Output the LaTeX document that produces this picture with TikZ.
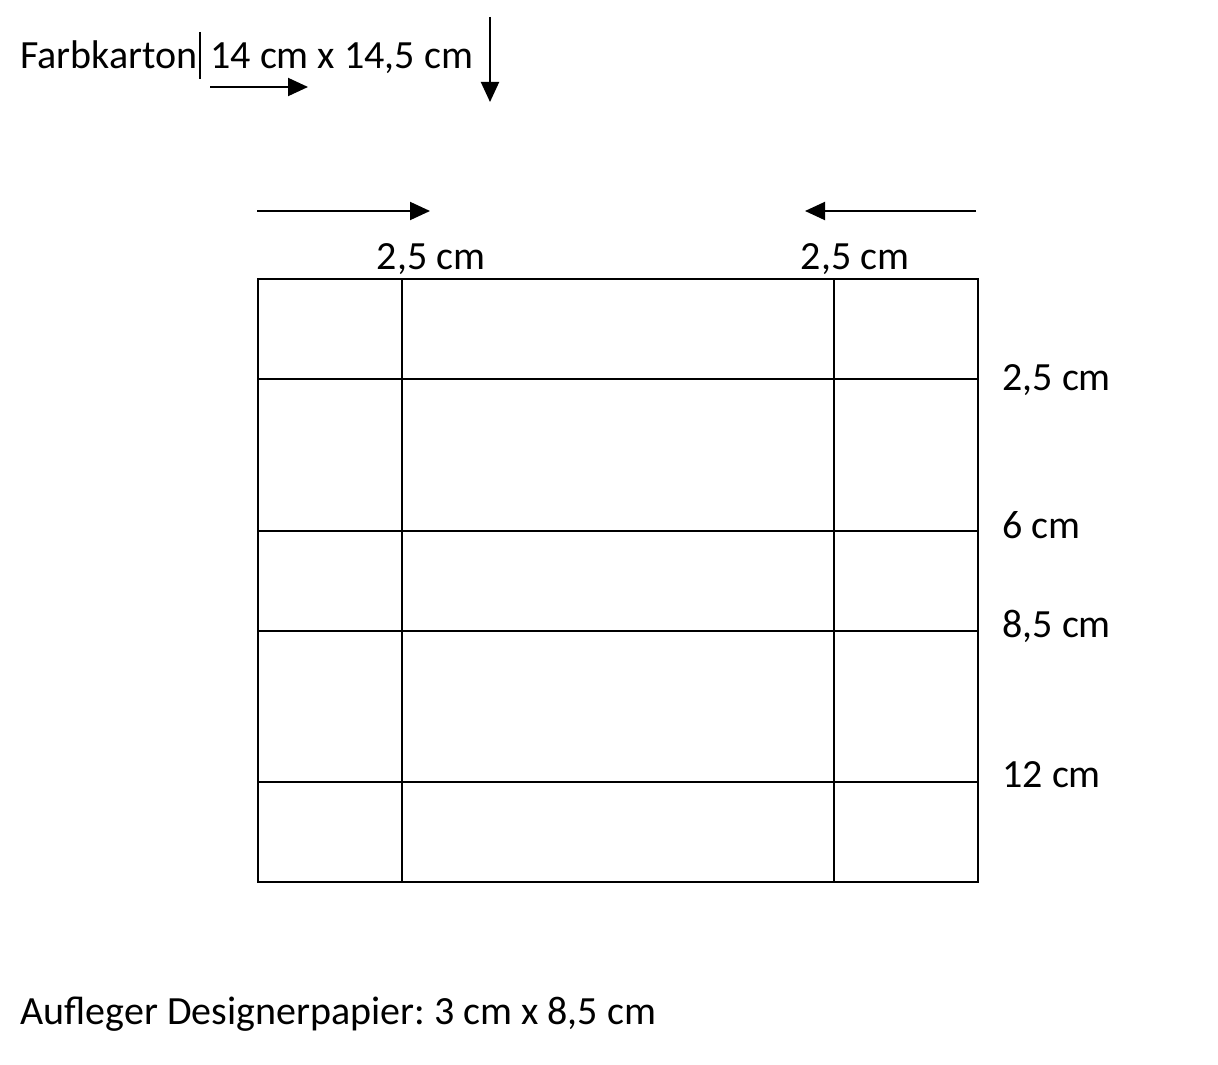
\documentclass[tikz,border=0pt]{standalone}
\usepackage{fontspec}
\setmainfont{Carlito}
\usetikzlibrary{arrows.meta}
\tikzset{
  lbl/.style={inner sep=0pt, font=\fontsize{20pt}{24pt}\selectfont},
  gridline/.style={line width=1pt, black},
  arr/.style={line width=1pt, -{Triangle[length=10pt,width=9pt]}},
}
\begin{document}
\frenchspacing
\begin{tikzpicture}[x=0.5pt,y=-0.5pt]
\useasboundingbox (0,0) rectangle (1218,1064);
% header
\node[lbl, anchor=base west] (title) at (20,69) {Farbkarton};
\node[lbl, anchor=base west] (size) at (210,69) {14 cm x 14,5 cm};
\coordinate (c1) at (200,32); \coordinate (c2) at (200,79);
\draw[line width=1pt] (c1) -- (c2);
\coordinate (h1) at (210,87); \coordinate (h2) at (308,87);
\draw[arr] (h1) -- (h2);
\coordinate (v1) at (490,17); \coordinate (v2) at (490,102);
\draw[arr] (v1) -- (v2);
% top arrows
\coordinate (la1) at (257,211); \coordinate (la2) at (430,211);
\draw[arr] (la1) -- (la2);
\coordinate (ra1) at (976,211); \coordinate (ra2) at (805,211);
\draw[arr] (ra1) -- (ra2);
\node[lbl, anchor=base] (tl) at (431,269) {2,5 cm};
\node[lbl, anchor=base] (tr) at (855,269) {2,5 cm};
% plan
\draw[gridline] (258,279) rectangle (978,882);
\foreach \x in {402,834} \draw[gridline] (\x,279) -- (\x,882);
\foreach \y in {379,531,631,782} \draw[gridline] (258,\y) -- (978,\y);
% right labels
\node[lbl, anchor=base west] (r1) at (1002,390) {2,5 cm};
\node[lbl, anchor=base west] (r2) at (1002,538) {6 cm};
\node[lbl, anchor=base west] (r3) at (1002,637) {8,5 cm};
\node[lbl, anchor=base west] (r4) at (1002,787) {12 cm};
% footer
\node[lbl, anchor=base west] (foot) at (20,1024) {Aufleger Designerpapier:\ 3 cm x 8,5 cm};
\end{tikzpicture}
\end{document}
